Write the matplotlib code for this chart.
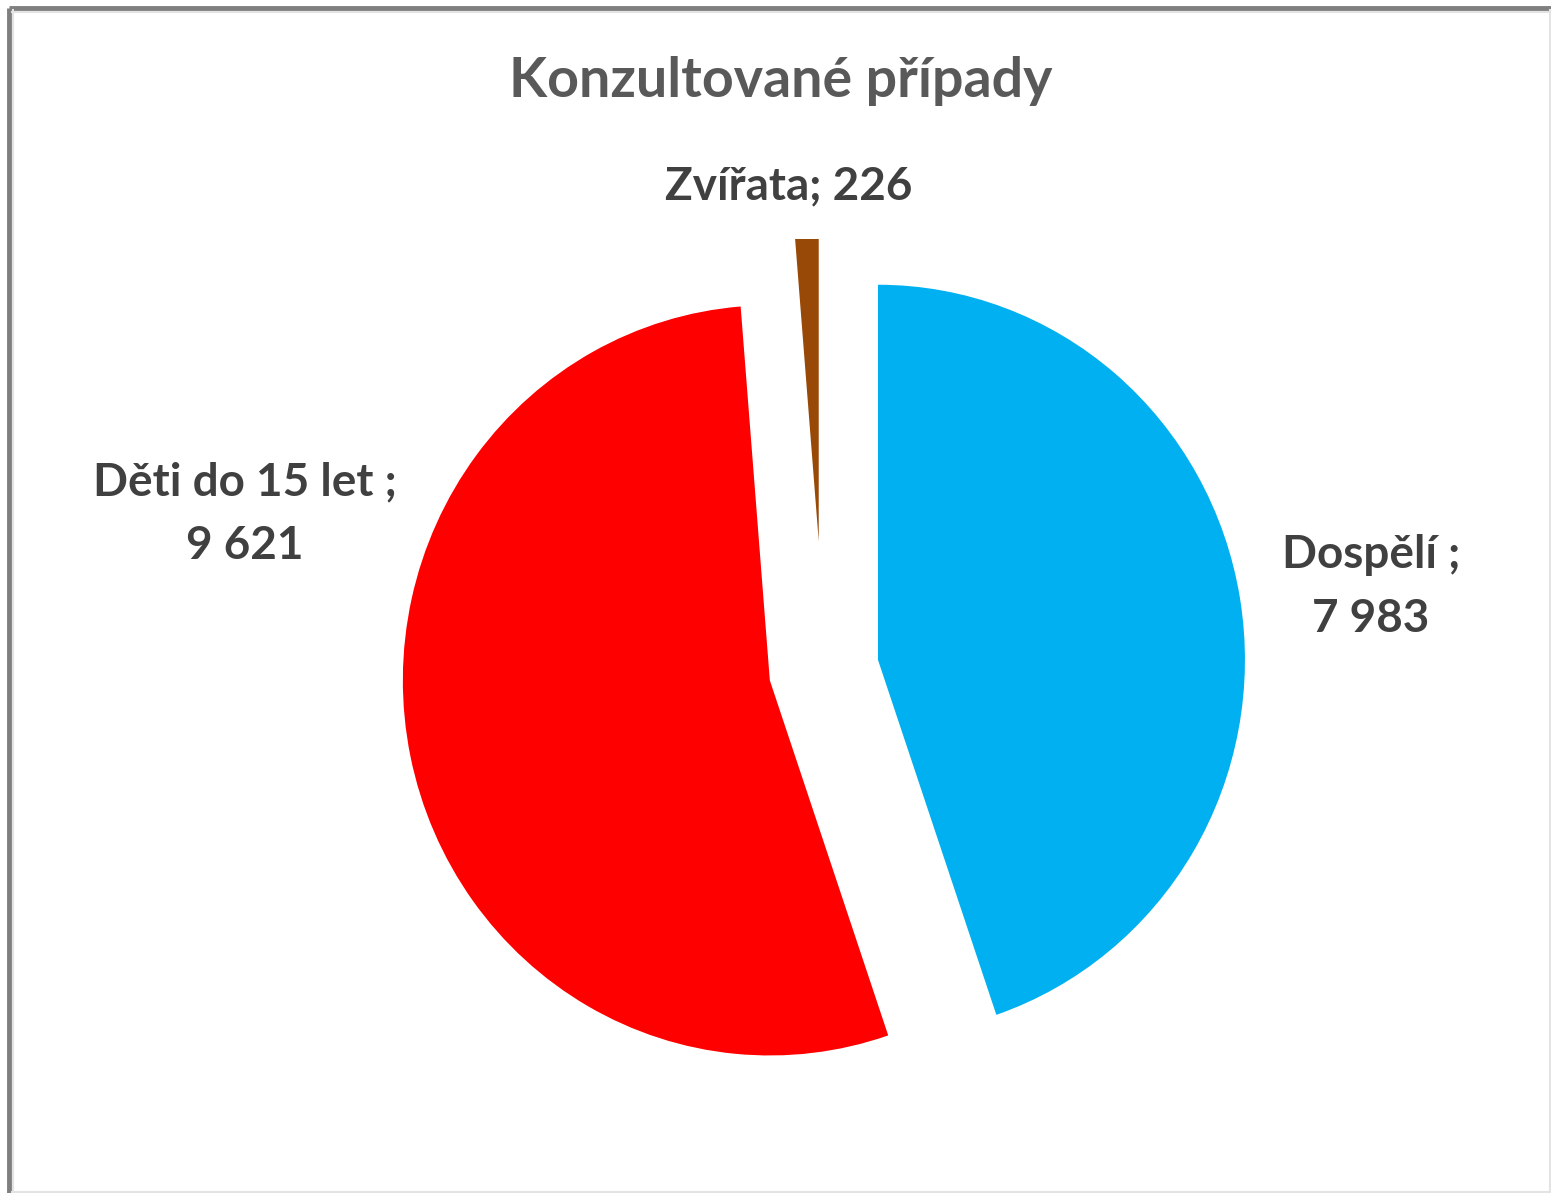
import numpy as np
import matplotlib.pyplot as plt
from matplotlib.patches import Rectangle

# data
categories = ["Dospělí", "Děti do 15 let", "Zvířata"]
values = [7983, 9621, 226]
value_labels = ["7 983", "9 621", "226"]
colors = ["#00B0F0", "#FF0000", "#984807"]

W, H = 1551, 1193
SY = 1.022  # slight vertical stretch seen in the picture


def py(y):
	# pixel row (from top) -> data y
	return (H - y) / SY


fig = plt.figure(figsize=(W / 100, H / 100), dpi=100)
ax = fig.add_axes([0, 0, 1, 1])

wedges, _ = ax.pie(values, colors=colors, startangle=90, counterclock=False,
	radius=367, center=(823.7, py(669)), explode=[55, 55, 125],
	wedgeprops=dict(linewidth=0))

# the small slice is cut off by the top of the plot area
clip = Rectangle((0, 0), W, py(239), transform=ax.transData)
wedges[2].set_clip_path(clip)
wedges[2].set_clip_on(True)

ax.set_aspect('auto')
ax.set_xlim(0, W)
ax.set_ylim(0, H / SY)
ax.axis('off')

font = 'Lato'
ax.text(781, py(81), "Konzultované případy", ha='center', va='center',
	fontsize=40, fontweight='bold', color='#595959', family=font)

lab = dict(ha='center', va='center', fontsize=33, fontweight='bold',
	color='#404040', family=font, linespacing=1.65)
ax.text(1371, py(587), categories[0] + " ;\n" + value_labels[0], **lab)
ax.text(245, py(514), categories[1] + " ;\n" + value_labels[1], **lab)
ax.text(789, py(186), categories[2] + "; " + value_labels[2], **lab)

# chart frame
ax.plot([9, 9], [py(8), py(1193)], color='#7f7f7f', lw=3.5, solid_capstyle='butt')
ax.plot([9, 1551], [py(8), py(8)], color='#7f7f7f', lw=3.5, solid_capstyle='butt')
ax.plot([12.5, 12.5], [py(10), py(1191)], color='#e3e3e3', lw=1.5)
ax.plot([12, 1551], [py(11.5), py(11.5)], color='#e3e3e3', lw=1.5)
ax.plot([1549.5, 1549.5], [py(10), py(1191)], color='#e3e3e3', lw=1.5)
ax.plot([12, 1551], [py(1191.5), py(1191.5)], color='#e3e3e3', lw=1.5)

fig.savefig("out.png", dpi=100)
